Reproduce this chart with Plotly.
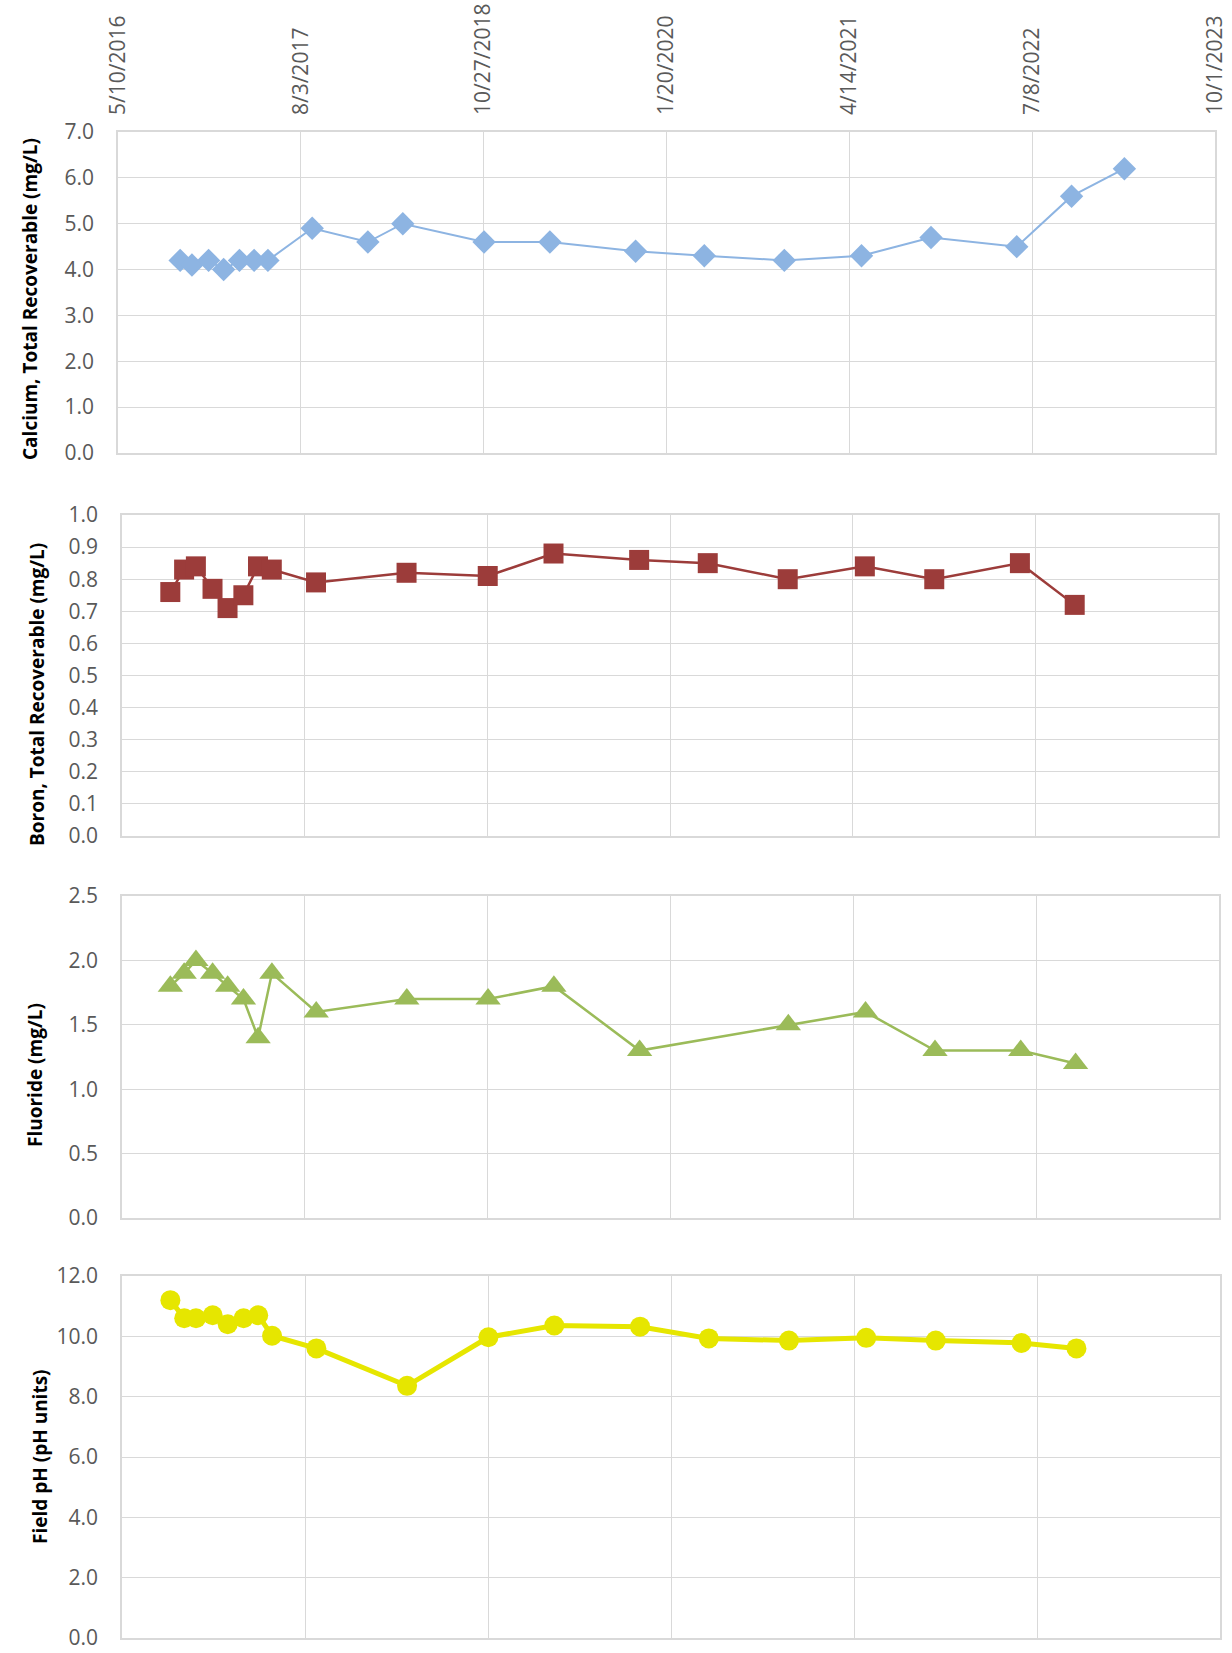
import plotly.graph_objects as go

# ---- sampling data -------------------------------------------------------
calcium_dates = [
    "2016-10-10", "2016-11-08", "2016-12-19", "2017-01-25", "2017-03-05",
    "2017-04-10", "2017-05-14", "2017-08-31", "2018-01-15", "2018-04-11",
    "2018-10-28", "2019-04-08", "2019-11-05", "2020-04-22", "2020-11-05",
    "2021-05-14", "2021-11-01", "2022-05-31", "2022-10-13", "2023-02-20",
]
calcium_mg_l = [4.2, 4.1, 4.2, 4.0, 4.2, 4.2, 4.2, 4.9, 4.6, 5.0,
                4.6, 4.6, 4.4, 4.3, 4.2, 4.3, 4.7, 4.5, 5.6, 6.2]

boron_dates = [
    "2016-09-06", "2016-10-10", "2016-11-08", "2016-12-19", "2017-01-25",
    "2017-03-05", "2017-04-10", "2017-05-14", "2017-08-31", "2018-04-11",
    "2018-10-28", "2019-04-08", "2019-11-05", "2020-04-22", "2020-11-05",
    "2021-05-14", "2021-11-01", "2022-05-31", "2022-10-13",
]
boron_mg_l = [0.76, 0.83, 0.84, 0.77, 0.71, 0.75, 0.84, 0.83, 0.79, 0.82,
              0.81, 0.88, 0.86, 0.85, 0.80, 0.84, 0.80, 0.85, 0.72]

fluoride_dates = [
    "2016-09-06", "2016-10-10", "2016-11-08", "2016-12-19", "2017-01-25",
    "2017-03-05", "2017-04-10", "2017-05-14", "2017-08-31", "2018-04-11",
    "2018-10-28", "2019-04-08", "2019-11-05", "2020-11-05", "2021-05-14",
    "2021-11-01", "2022-05-31", "2022-10-13",
]
fluoride_mg_l = [1.8, 1.9, 2.0, 1.9, 1.8, 1.7, 1.4, 1.9, 1.6, 1.7,
                 1.7, 1.8, 1.3, 1.5, 1.6, 1.3, 1.3, 1.2]

ph_dates = boron_dates
field_ph = [11.2, 10.6, 10.6, 10.7, 10.4, 10.6, 10.7, 10.02, 9.6, 8.36,
            9.97, 10.36, 10.32, 9.93, 9.86, 9.95, 9.86, 9.78, 9.6]

# date axis: ticks every 450 days
tick_dates = ["2016-05-10", "2017-08-03", "2018-10-27", "2020-01-20",
              "2021-04-14", "2022-07-08", "2023-10-01"]
tick_labels = ["5/10/2016", "8/3/2017", "10/27/2018", "1/20/2020",
               "4/14/2021", "7/8/2022", "10/1/2023"]

# ---- page geometry (pixels) ------------------------------------------------
W, H = 1232, 1653


def fx(px):
    return px / W


def fy(py):
    return 1 - py / H


# (left, right, top, bottom) of each plot area
panels = [
    (118, 1215, 132, 453),
    (122, 1218, 515, 836),
    (122, 1219, 896, 1218),
    (122, 1220, 1276, 1638),
]

GRID = "#D9D9D9"
TICK_COLOR = "#595959"
TICK_FONT = dict(family="Open Sans", size=21, color=TICK_COLOR)

fig = go.Figure()

series = [
    dict(x=calcium_dates, y=calcium_mg_l, color="#8DB4E2", width=2,
         symbol="diamond", size=18),
    dict(x=boron_dates, y=boron_mg_l, color="#9C3C3A", width=2.5,
         symbol="square", size=20),
    dict(x=fluoride_dates, y=fluoride_mg_l, color="#9BBB59", width=2.5,
         symbol="triangle-up", size=22),
    dict(x=ph_dates, y=field_ph, color="#E6E600", width=5,
         symbol="circle", size=20),
]

for i, s in enumerate(series):
    suffix = "" if i == 0 else str(i + 1)
    fig.add_trace(go.Scatter(
        x=s["x"], y=s["y"], mode="lines+markers",
        xaxis="x" + suffix, yaxis="y" + suffix,
        line=dict(color=s["color"], width=s["width"]),
        marker=dict(symbol=s["symbol"], size=s["size"], color=s["color"],
                    line=dict(width=0)),
        showlegend=False, cliponaxis=False,
    ))

y_ranges = [(0, 7), (0, 1), (0, 2.5), (0, 12)]
y_dticks = [1, 0.1, 0.5, 2]

layout = dict(
    width=W, height=H,
    margin=dict(l=0, r=0, t=0, b=0, autoexpand=False),
    paper_bgcolor="white", plot_bgcolor="white",
    showlegend=False,
)

for i, (l, r, t, b) in enumerate(panels):
    suffix = "" if i == 0 else str(i + 1)
    xa = dict(
        type="date",
        domain=[fx(l), fx(r)],
        range=["2016-05-10", "2023-10-01"],
        anchor="y" + suffix,
        tickmode="array", tickvals=tick_dates, ticktext=tick_labels,
        showgrid=True, gridcolor=GRID, gridwidth=1.3,
        showline=True, linecolor=GRID, linewidth=1.5, mirror=True,
        ticks="", zeroline=False, automargin=False,
        ticklabeloverflow="allow",
        tickfont=dict(family="Open Sans", size=21, color=TICK_COLOR),
    )
    if i == 0:
        xa.update(side="top", tickangle=-90, showticklabels=True,
                  ticklabelstandoff=11)
    else:
        xa.update(showticklabels=False)
    ya = dict(
        domain=[fy(b), fy(t)],
        range=list(y_ranges[i]),
        anchor="x" + suffix,
        tickmode="linear", tick0=0, dtick=y_dticks[i], tickformat=".1f",
        showgrid=True, gridcolor=GRID, gridwidth=1.3,
        showline=True, linecolor=GRID, linewidth=1.5, mirror=True,
        ticks="", zeroline=False, automargin=False,
        ticklabeloverflow="allow",
        tickfont=TICK_FONT, ticklabelstandoff=18,
    )
    layout["xaxis" + suffix] = xa
    layout["yaxis" + suffix] = ya

# vertical axis titles
titles = [
    ("Calcium, Total Recoverable (mg/L)", 30, 299),
    ("Boron, Total Recoverable (mg/L)", 37, 695),
    ("Fluoride (mg/L)", 35, 1075),
    ("Field pH (pH units)", 40, 1456),
]
layout["annotations"] = [
    dict(text=f"<b>{txt}</b>", x=fx(cx), y=fy(cy), xref="paper", yref="paper",
         textangle=-90, showarrow=False, xanchor="center", yanchor="middle",
         font=dict(family="Open Sans", size=19, color="black"))
    for txt, cx, cy in titles
]

fig.update_layout(**layout)
fig.write_html("out.html")
